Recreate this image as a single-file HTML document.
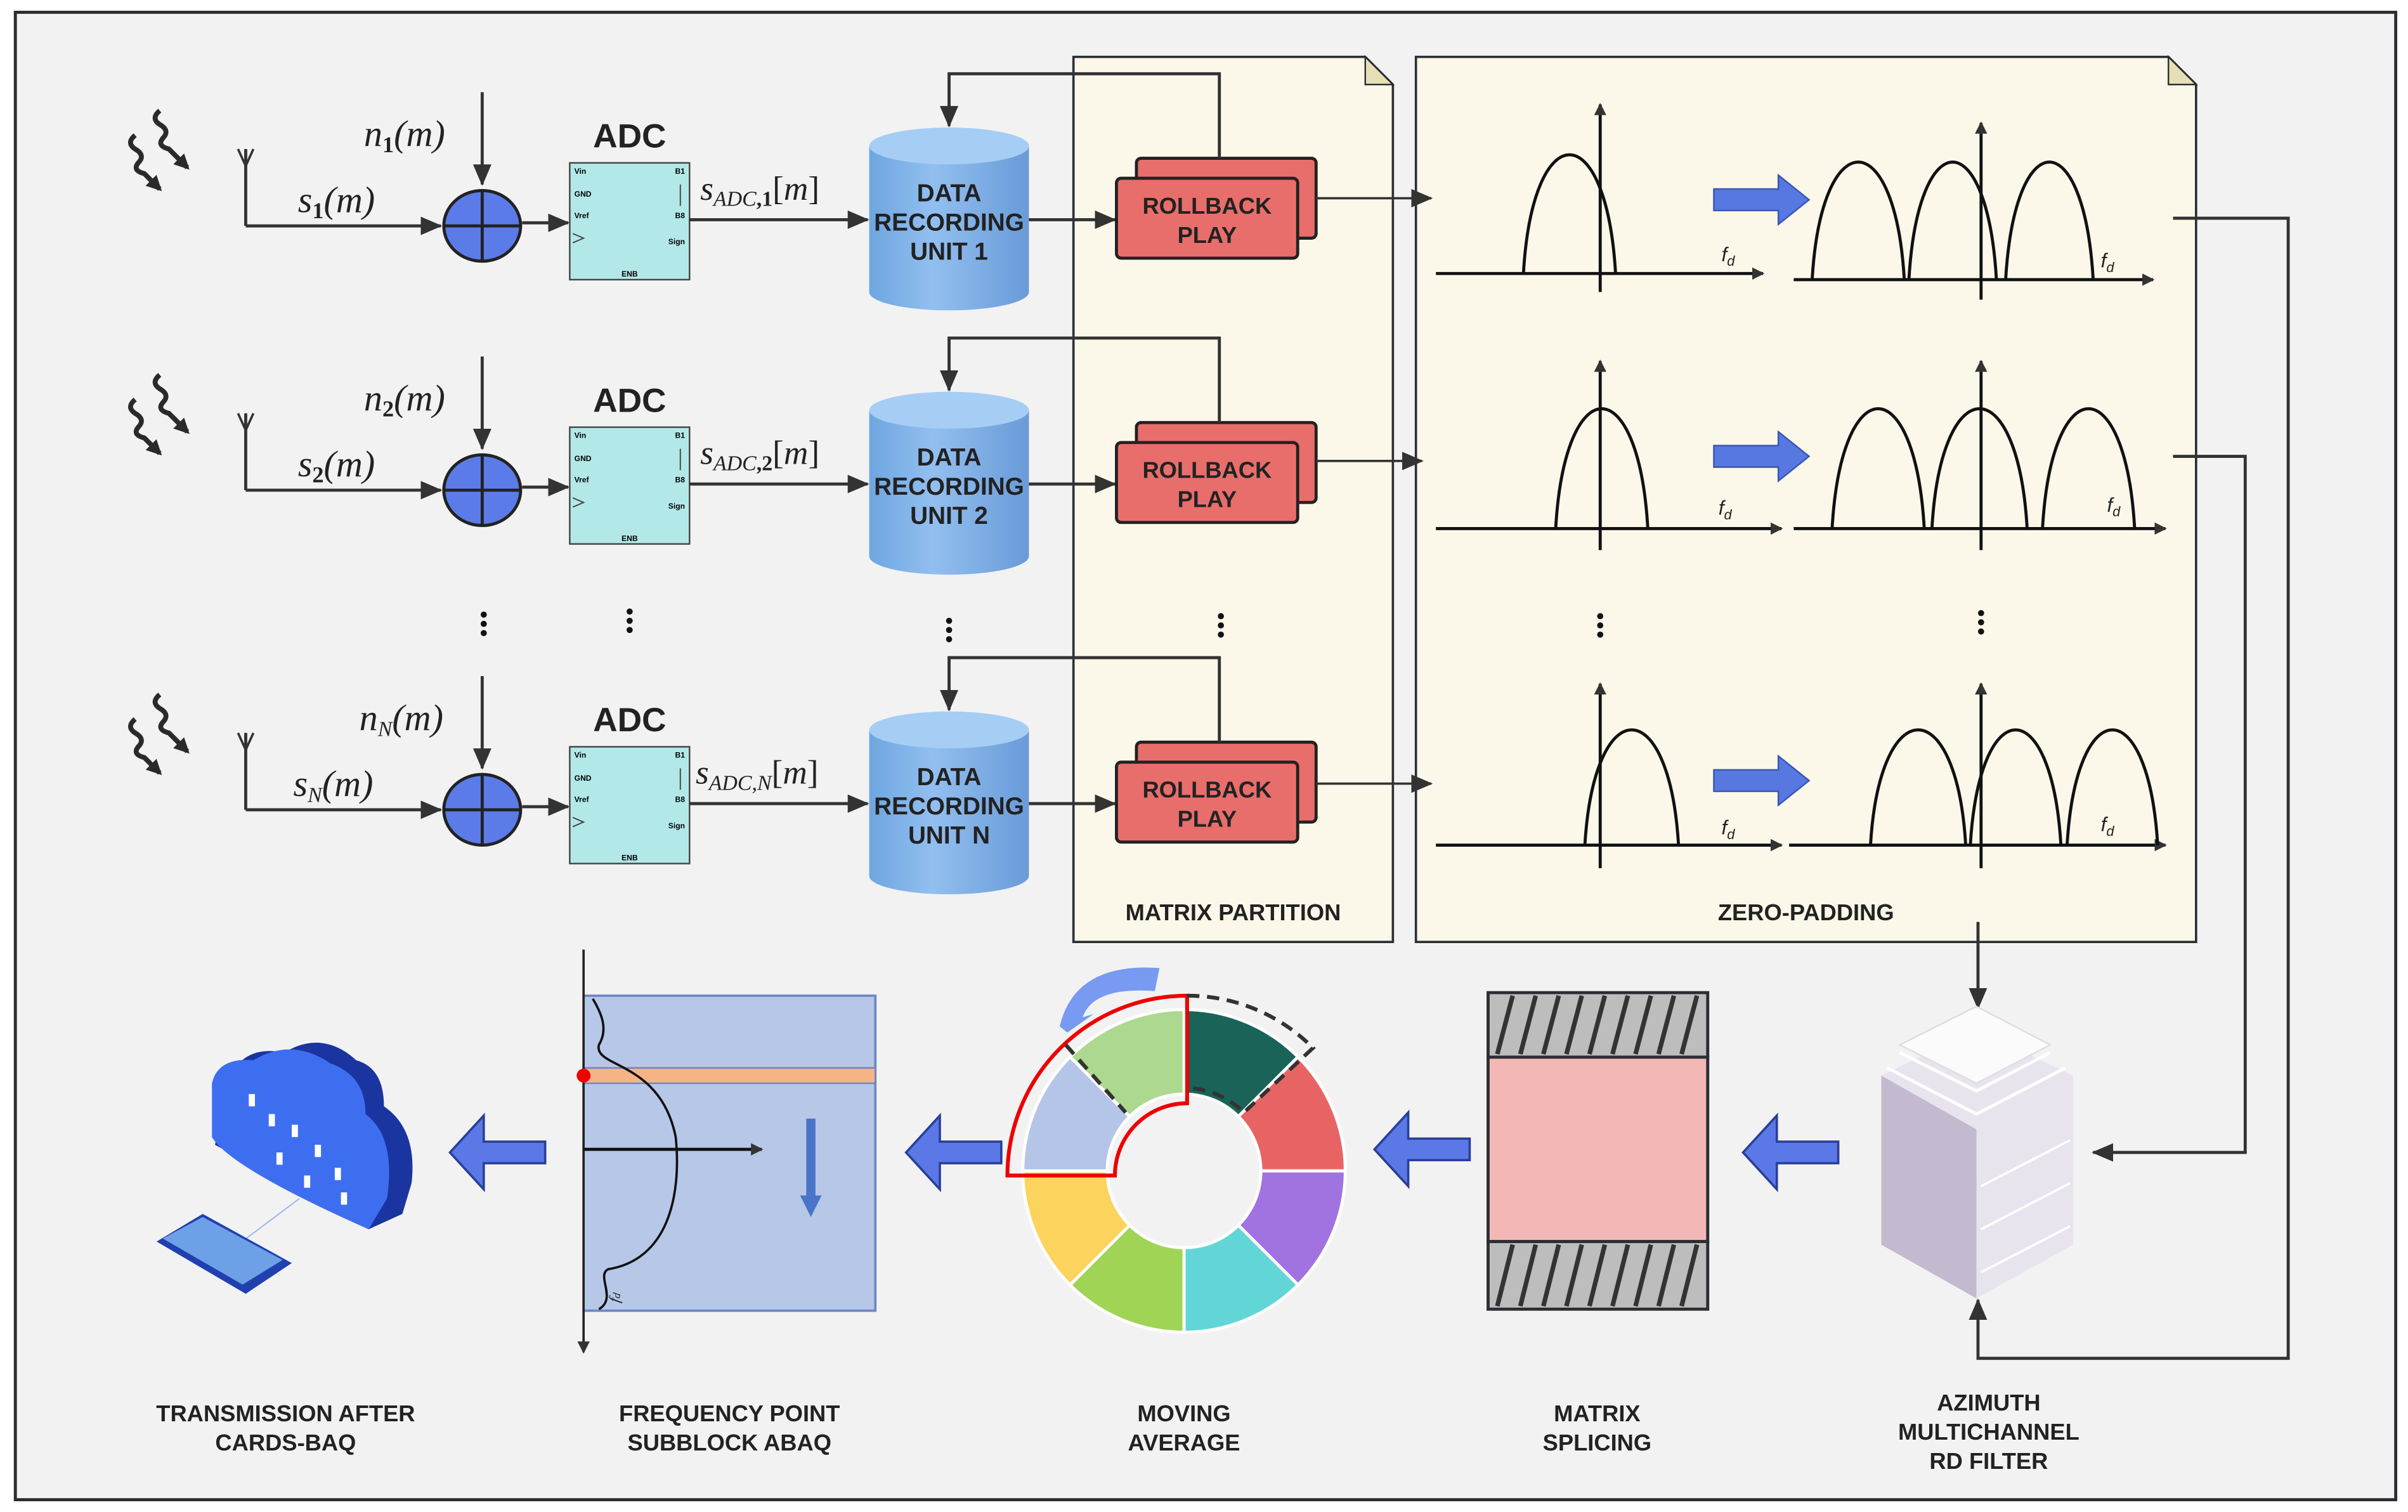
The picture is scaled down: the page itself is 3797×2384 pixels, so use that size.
<!DOCTYPE html>
<html><head><meta charset="utf-8"><style>
html,body{margin:0;padding:0;background:#fff}
svg{display:block}
text{font-family:"Liberation Sans",sans-serif}
.lbl{font-weight:bold;font-size:15px;fill:#222;text-anchor:middle}
.m{font-family:"Liberation Serif",serif;font-style:italic;fill:#222}
</style></head><body>
<svg width="3797" height="2384" viewBox="0 0 1568 984" preserveAspectRatio="none" xmlns="http://www.w3.org/2000/svg">
<defs>
<marker id="a" markerWidth="8" markerHeight="8" refX="7" refY="4" orient="auto" markerUnits="userSpaceOnUse"><path d="M0,0 L8,4 L0,8 Z" fill="#333"/></marker>
<marker id="a2" markerWidth="14" markerHeight="12" refX="13" refY="6" orient="auto" markerUnits="userSpaceOnUse"><path d="M0,0 L14,6 L0,12 Z" fill="#333"/></marker>
<marker id="a3" markerWidth="10" markerHeight="10" refX="8" refY="5" orient="auto" markerUnits="userSpaceOnUse"><path d="M0,0 L10,5 L0,10 Z" fill="#2a2a2a"/></marker>
<linearGradient id="cyl" x1="0" x2="1"><stop offset="0" stop-color="#6ea6e0"/><stop offset="0.4" stop-color="#92bff0"/><stop offset="1" stop-color="#6a9bd8"/></linearGradient>
<g id="wave" fill="none" stroke="#2a2a2a" stroke-width="3.2">
<path d="M104,72 q-6,5 0,9 q7,4 2,9 q-4,5 4,7 l12,12" marker-end="url(#a3)"/>
<path d="M88,88 q-6,5 0,9 q7,4 2,9 q-4,5 4,7 l10,10" marker-end="url(#a3)"/>
</g>
<g id="bigarrow"><path d="M0,-7 H42 V-16 L62,0 L42,16 V7 H0 Z" fill="#5678e0" stroke="#3a56b0" stroke-width="1"/></g>
<g id="larrow"><path d="M62,-7 H22 V-24 L0,0 L22,24 V7 H62 Z" fill="#5a79e6" stroke="#2a3f99" stroke-width="1.5"/></g>
<g id="row">
<use href="#wave"/>
<path d="M160,97 V147" stroke="#333" stroke-width="2"/>
<path d="M155,97 L160,108 L165,97 M160,97 V108" stroke="#333" stroke-width="1.5" fill="none"/>
<path d="M160,147 H287" stroke="#333" stroke-width="2" marker-end="url(#a2)"/>
<path d="M314,60 V120" stroke="#333" stroke-width="2" marker-end="url(#a2)"/>
<ellipse cx="314" cy="147" rx="25" ry="23" fill="#5b7be8" stroke="#222" stroke-width="2"/>
<path d="M289,147 H339 M314,124 V170" stroke="#222" stroke-width="2"/>
<path d="M340,145 H370" stroke="#333" stroke-width="2" marker-end="url(#a2)"/>
<rect x="371" y="106" width="78" height="76" fill="#b3e8e8" stroke="#444" stroke-width="1"/>
<text x="374" y="113" font-size="5" font-weight="bold">Vin</text><text x="374" y="128" font-size="5" font-weight="bold">GND</text><text x="374" y="142" font-size="5" font-weight="bold">Vref</text>
<text x="446" y="113" font-size="5" font-weight="bold" text-anchor="end">B1</text><text x="446" y="142" font-size="5" font-weight="bold" text-anchor="end">B8</text><text x="446" y="159" font-size="5" font-weight="bold" text-anchor="end">Sign</text>
<text x="410" y="180" font-size="5" font-weight="bold" text-anchor="middle">ENB</text>
<path d="M443,120 V134 M373,152 L380,155 L373,158" stroke="#444" stroke-width="0.8" fill="none"/>
<text x="410" y="96" font-size="22" font-weight="bold" text-anchor="middle" fill="#222">ADC</text>
<path d="M449,143 H565" stroke="#333" stroke-width="2" marker-end="url(#a2)"/>
<path d="M566,95 V190 A52,12 0 0 0 670,190 V95 Z" fill="url(#cyl)"/>
<ellipse cx="618" cy="95" rx="52" ry="12" fill="#a6cdf4"/>
<text x="618" y="131" font-size="16" font-weight="bold" text-anchor="middle" fill="#222">DATA</text>
<text x="618" y="150" font-size="16" font-weight="bold" text-anchor="middle" fill="#222">RECORDING</text>
<path d="M670,143 H726" stroke="#333" stroke-width="2" marker-end="url(#a2)"/>
<rect x="740" y="103" width="117" height="52" rx="3" fill="#e86e6b" stroke="#222" stroke-width="2"/>
<rect x="727" y="116" width="118" height="52" rx="3" fill="#e86e6b" stroke="#222" stroke-width="2"/>
<text x="786" y="139" font-size="15" font-weight="bold" text-anchor="middle" fill="#222">ROLLBACK</text>
<text x="786" y="158" font-size="15" font-weight="bold" text-anchor="middle" fill="#222">PLAY</text>
<path d="M794,103 V48 H618 V82" fill="none" stroke="#333" stroke-width="2" marker-end="url(#a2)"/>
</g>
</defs>
<rect x="0" y="0" width="1568" height="984" fill="#fff"/>
<rect x="10" y="8" width="1550" height="968" fill="#f2f2f2" stroke="#2a2e33" stroke-width="2"/>

<path d="M699,37 H889 L907,55 V613 H699 Z" fill="#fbf8e9" stroke="#2a2e33" stroke-width="1.5"/>
<path d="M889,37 V55 H907 Z" fill="#e6dfb6" stroke="#2a2e33" stroke-width="1"/>
<path d="M922,37 H1412 L1430,55 V613 H922 Z" fill="#fbf8e9" stroke="#2a2e33" stroke-width="1.5"/>
<path d="M1412,37 V55 H1430 Z" fill="#e6dfb6" stroke="#2a2e33" stroke-width="1"/>
<text x="803" y="599" class="lbl">MATRIX PARTITION</text>
<text x="1176" y="599" class="lbl">ZERO-PADDING</text>

<use href="#row"/>
<use href="#row" y="172"/>
<use href="#row" y="380"/>
<text x="618" y="169" font-size="16" font-weight="bold" text-anchor="middle" fill="#222">UNIT 1</text>
<text x="618" y="341" font-size="16" font-weight="bold" text-anchor="middle" fill="#222">UNIT 2</text>
<text x="618" y="549" font-size="16" font-weight="bold" text-anchor="middle" fill="#222">UNIT N</text>

<text class="m" x="237" y="95" font-size="24">n<tspan font-size="15" dy="4" font-style="normal" font-weight="bold">1</tspan><tspan dy="-4">(m)</tspan></text>
<text class="m" x="194" y="138" font-size="24">s<tspan font-size="15" dy="4" font-style="normal" font-weight="bold">1</tspan><tspan dy="-4">(m)</tspan></text>
<text class="m" x="237" y="267" font-size="24">n<tspan font-size="15" dy="4" font-style="normal" font-weight="bold">2</tspan><tspan dy="-4">(m)</tspan></text>
<text class="m" x="194" y="310" font-size="24">s<tspan font-size="15" dy="4" font-style="normal" font-weight="bold">2</tspan><tspan dy="-4">(m)</tspan></text>
<text class="m" x="234" y="475" font-size="24">n<tspan font-size="14" dy="4">N</tspan><tspan dy="-4">(m)</tspan></text>
<text class="m" x="191" y="518" font-size="24">s<tspan font-size="14" dy="4">N</tspan><tspan dy="-4">(m)</tspan></text>
<text class="m" x="456" y="130" font-size="22">s<tspan font-size="14" dy="4">ADC</tspan><tspan font-size="14" font-style="normal" font-weight="bold">,1</tspan><tspan dy="-4" font-style="normal">[</tspan>m<tspan font-style="normal">]</tspan></text>
<text class="m" x="456" y="302" font-size="22">s<tspan font-size="14" dy="4">ADC</tspan><tspan font-size="14" font-style="normal" font-weight="bold">,2</tspan><tspan dy="-4" font-style="normal">[</tspan>m<tspan font-style="normal">]</tspan></text>
<text class="m" x="453" y="510" font-size="22">s<tspan font-size="14" dy="4">ADC,N</tspan><tspan dy="-4" font-style="normal">[</tspan>m<tspan font-style="normal">]</tspan></text>

<g fill="#111">
<circle cx="315" cy="400" r="2"/><circle cx="315" cy="406" r="2"/><circle cx="315" cy="412" r="2"/>
<circle cx="410" cy="398" r="2"/><circle cx="410" cy="404" r="2"/><circle cx="410" cy="410" r="2"/>
<circle cx="618" cy="404" r="2"/><circle cx="618" cy="410" r="2"/><circle cx="618" cy="416" r="2"/>
<circle cx="795" cy="401" r="2"/><circle cx="795" cy="407" r="2"/><circle cx="795" cy="413" r="2"/>
<circle cx="1042" cy="401" r="2"/><circle cx="1042" cy="407" r="2"/><circle cx="1042" cy="413" r="2"/>
<circle cx="1290" cy="399" r="2"/><circle cx="1290" cy="405" r="2"/><circle cx="1290" cy="411" r="2"/>
</g>

<g stroke="#333" stroke-width="1.5" fill="none">
<path d="M857,129 H932" marker-end="url(#a2)"/>
<path d="M857,300 H926" marker-end="url(#a2)"/>
<path d="M857,510 H932" marker-end="url(#a2)"/>
</g>

<g fill="none" stroke="#111" stroke-width="2">
<path d="M935,178 H1148" marker-end="url(#a)"/><path d="M1042,190 V68" marker-end="url(#a)"/>
<path d="M992,178 C998,75 1046,75 1052,178"/>
<path d="M1168,182 H1402" marker-end="url(#a)"/><path d="M1290,195 V80" marker-end="url(#a)"/>
<path d="M1180,182 C1186,80 1234,80 1240,182 M1243,182 C1249,80 1294,80 1300,182 M1306,182 C1312,80 1357,80 1363,182"/>
<path d="M935,344 H1160" marker-end="url(#a)"/><path d="M1042,358 V235" marker-end="url(#a)"/>
<path d="M1013,344 C1019,240 1067,240 1073,344"/>
<path d="M1168,344 H1410" marker-end="url(#a)"/><path d="M1290,358 V235" marker-end="url(#a)"/>
<path d="M1193,344 C1199,240 1247,240 1253,344 M1258,344 C1264,240 1314,240 1320,344 M1330,344 C1336,240 1384,240 1390,344"/>
<path d="M935,550 H1160" marker-end="url(#a)"/><path d="M1042,565 V445" marker-end="url(#a)"/>
<path d="M1032,550 C1038,450 1087,450 1093,550"/>
<path d="M1165,550 H1410" marker-end="url(#a)"/><path d="M1290,565 V445" marker-end="url(#a)"/>
<path d="M1218,550 C1224,450 1274,450 1280,550 M1283,550 C1289,450 1336,450 1342,550 M1346,550 C1352,450 1399,450 1405,550"/>
</g>
<g class="m" font-size="13">
<text x="1121" y="170">f<tspan font-size="9" dy="3">d</tspan></text>
<text x="1368" y="174">f<tspan font-size="9" dy="3">d</tspan></text>
<text x="1119" y="335">f<tspan font-size="9" dy="3">d</tspan></text>
<text x="1372" y="333">f<tspan font-size="9" dy="3">d</tspan></text>
<text x="1121" y="543">f<tspan font-size="9" dy="3">d</tspan></text>
<text x="1368" y="541">f<tspan font-size="9" dy="3">d</tspan></text>
</g>
<use href="#bigarrow" x="1116" y="130"/>
<use href="#bigarrow" x="1116" y="297"/>
<use href="#bigarrow" x="1116" y="508"/>

<g stroke="#333" stroke-width="2" fill="none">
<path d="M1415,142 H1490 V884 H1288 V846" marker-end="url(#a2)"/>
<path d="M1415,297 H1462 V750 H1363" marker-end="url(#a2)"/>
<path d="M1288,600 V656" marker-end="url(#a2)"/>
</g>

<path d="M1225,700 L1287,670 L1350,700 V810 L1287,845 L1225,810 Z" fill="#e8e4ee"/>
<path d="M1225,700 L1287,735 V845 L1225,810 Z" fill="#c4bad0"/>
<path d="M1237,680 L1287,655 L1335,680 L1287,705 Z" fill="#fcfbfb" stroke="#ddd"/>
<path d="M1237,685 L1287,710 L1335,685 M1229,695 L1287,725 L1345,695" stroke="#fff" stroke-width="2" fill="none"/>
<path d="M1290,772 L1348,742 M1290,800 L1348,770 M1290,828 L1348,798" stroke="#fff" stroke-width="1.5"/>

<rect x="969" y="646" width="143" height="42" fill="#bdbdbd" stroke="#2a2e33" stroke-width="2"/>
<rect x="969" y="688" width="143" height="120" fill="#f3b8b6" stroke="#2a2e33" stroke-width="2"/>
<rect x="969" y="808" width="143" height="44" fill="#bdbdbd" stroke="#2a2e33" stroke-width="2"/>
<g stroke="#333" stroke-width="3">
<path d="M975,686 L985,648 M990,686 L1000,648 M1005,686 L1015,648 M1020,686 L1030,648 M1035,686 L1045,648 M1050,686 L1060,648 M1065,686 L1075,648 M1080,686 L1090,648 M1095,686 L1105,648"/>
<path d="M975,850 L985,810 M990,850 L1000,810 M1005,850 L1015,810 M1020,850 L1030,810 M1035,850 L1045,810 M1050,850 L1060,810 M1065,850 L1075,810 M1080,850 L1090,810 M1095,850 L1105,810"/>
</g>

<use href="#larrow" x="1135" y="750"/>
<use href="#larrow" x="895" y="748"/>
<use href="#larrow" x="590" y="750"/>
<use href="#larrow" x="293" y="750"/>

<!-- donut: 8 x 45deg -->
<g stroke="#fff" stroke-width="2">
<path d="M771,657 A105,105 0 0 1 845.2,687.8 L806.4,726.6 A50,50 0 0 0 771,712 Z" fill="#1a6358"/>
<path d="M845.2,687.8 A105,105 0 0 1 876,762 L821,762 A50,50 0 0 0 806.4,726.6 Z" fill="#e86464"/>
<path d="M876,762 A105,105 0 0 1 845.2,836.2 L806.4,797.4 A50,50 0 0 0 821,762 Z" fill="#a173e0"/>
<path d="M845.2,836.2 A105,105 0 0 1 771,867 L771,812 A50,50 0 0 0 806.4,797.4 Z" fill="#62d6d6"/>
<path d="M771,867 A105,105 0 0 1 696.8,836.2 L735.6,797.4 A50,50 0 0 0 771,812 Z" fill="#a0d455"/>
<path d="M696.8,836.2 A105,105 0 0 1 666,762 L721,762 A50,50 0 0 0 735.6,797.4 Z" fill="#fcd35c"/>
<path d="M666,762 A105,105 0 0 1 696.8,687.8 L735.6,726.6 A50,50 0 0 0 721,762 Z" fill="#b5c5e8"/>
<path d="M696.8,687.8 A105,105 0 0 1 771,657 L771,712 A50,50 0 0 0 735.6,726.6 Z" fill="#add88f"/>
</g>
<path d="M656,765 A117,117 0 0 1 773,648 V718 A47,47 0 0 0 726,765 Z" fill="none" stroke="#e00" stroke-width="2.5"/>
<path d="M773,648 A115,115 0 0 1 855,682 L810,724 A55,55 0 0 0 773,708" fill="none" stroke="#333" stroke-width="2.5" stroke-dasharray="8,5"/>
<path d="M694,680 L733,724" fill="none" stroke="#333" stroke-width="2.5" stroke-dasharray="8,5"/>
<path d="M690,668 Q700,626 755,630 L752,645 Q712,642 705,662 L712,660 L695,672 Z" fill="#6a90f0" opacity="0.9"/>

<rect x="380" y="648" width="190" height="205" fill="#b7c7e8" stroke="#6a86c4" stroke-width="1.5"/>
<rect x="380" y="695" width="190" height="10" fill="#f4b485" stroke="#6a86c4" stroke-width="1"/>
<path d="M380,618 V880" stroke="#222" stroke-width="1.5" marker-end="url(#a)"/>
<circle cx="380" cy="700" r="4.5" fill="#e00"/>
<path d="M386,650 C392,660 396,670 390,680 C386,695 430,690 440,740 C444,780 434,820 396,826 C388,830 402,845 390,852" fill="none" stroke="#111" stroke-width="1.5"/>
<path d="M380,748 H496" stroke="#111" stroke-width="2" marker-end="url(#a)"/>
<path d="M528,728 V780" stroke="#4a74c8" stroke-width="6"/><path d="M521,778 L528,792 L535,778 Z" fill="#4a74c8"/>
<text class="m" x="403" y="848" font-size="10" transform="rotate(-80 403 848)">f<tspan font-size="7">d</tspan></text>

<path d="M150,700 Q160,680 185,685 Q210,670 232,690 Q250,695 250,720 Q272,735 268,770 L262,790 L240,800 L140,745 Z" fill="#1a35a0"/>
<path d="M138,705 Q142,688 165,690 Q190,675 215,692 Q238,700 238,725 Q258,740 252,780 L240,800 Q150,760 138,740 Z" fill="#3e6ef0"/>
<g fill="#fff"><rect x="162" y="712" width="4" height="8"/><rect x="175" y="725" width="4" height="8"/><rect x="190" y="732" width="4" height="8"/><rect x="205" y="745" width="4" height="8"/><rect x="218" y="760" width="4" height="8"/><rect x="180" y="750" width="4" height="8"/><rect x="198" y="765" width="4" height="8"/><rect x="222" y="776" width="4" height="8"/></g>
<path d="M195,780 L155,810" stroke="#9ab4f0" stroke-width="0.8"/>
<path d="M102,808 L132,790 L190,822 L160,842 Z" fill="#2040b0"/>
<path d="M106,806 L132,792 L184,820 L158,836 Z" fill="#6ea0e8"/>

<text x="186" y="925" class="lbl">TRANSMISSION AFTER</text><text x="186" y="944" class="lbl">CARDS-BAQ</text>
<text x="475" y="925" class="lbl">FREQUENCY POINT</text><text x="475" y="944" class="lbl">SUBBLOCK ABAQ</text>
<text x="771" y="925" class="lbl">MOVING</text><text x="771" y="944" class="lbl">AVERAGE</text>
<text x="1040" y="925" class="lbl">MATRIX</text><text x="1040" y="944" class="lbl">SPLICING</text>
<text x="1295" y="918" class="lbl">AZIMUTH</text><text x="1295" y="937" class="lbl">MULTICHANNEL</text><text x="1295" y="956" class="lbl">RD FILTER</text>
</svg>
</body></html>
